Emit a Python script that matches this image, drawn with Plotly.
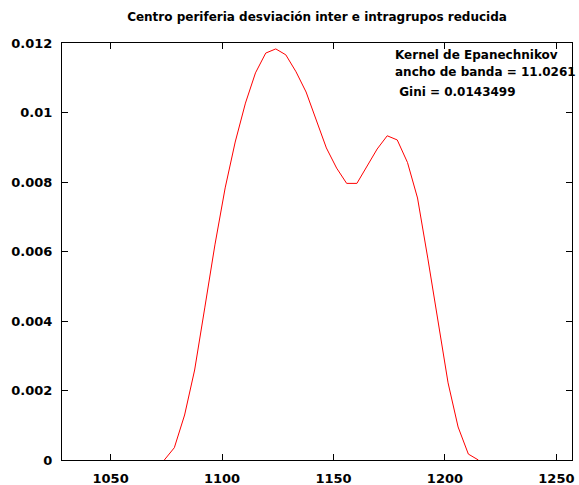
import plotly.graph_objects as go

# Evaluation grid (x) and estimated density (y)
x_vals = [1074.1, 1078.6, 1083.2, 1087.7, 1092.3, 1096.8, 1101.4, 1105.9,
          1110.5, 1115.0, 1119.6, 1124.1, 1128.6, 1133.2, 1137.7, 1142.3,
          1146.8, 1151.4, 1155.9, 1160.5, 1165.0, 1169.6, 1174.1, 1178.6,
          1183.2, 1187.7, 1192.3, 1196.8, 1201.4, 1205.9, 1210.5, 1215.0]
density = [0.0, 0.000354, 0.001295, 0.00259, 0.00440, 0.00619, 0.00783, 0.00915,
           0.01027, 0.01114, 0.01171, 0.01183, 0.01166, 0.01117, 0.01059, 0.00978,
           0.00898, 0.00840, 0.00796, 0.00796, 0.00844, 0.00895, 0.00933, 0.00921,
           0.00856, 0.00754, 0.00581, 0.00397, 0.00222, 0.00095, 0.00017, 0.0]

x_ticks = [1050, 1100, 1150, 1200, 1250]
y_ticks = [0, 0.002, 0.004, 0.006, 0.008, 0.01, 0.012]
y_ticktext = ["0", "0.002", "0.004", "0.006", "0.008", "0.01", "0.012"]

title_text = "<b>Centro periferia desviación inter e intragrupos reducida</b>"
notes = ["Kernel de Epanechnikov", "ancho de banda = 11.0261", " Gini = 0.0143499"]

W, H = 579, 485
L, R, T, B = 62, 7, 43, 25

fig = go.Figure()
fig.add_trace(go.Scatter(x=x_vals, y=density, mode="lines",
                         line=dict(color="#ff0000", width=1), showlegend=False,
                         hoverinfo="skip"))

font = dict(family="DejaVu Sans", size=12, color="black")

fig.update_layout(
    width=W, height=H,
    margin=dict(l=L, r=R, t=T, b=B, autoexpand=False),
    paper_bgcolor="white", plot_bgcolor="white",
    font=font,
    title=dict(text=title_text, x=(L + (W - R)) / 2 / W, xanchor="center",
               y=1 - 17 / H, yanchor="middle",
               font=dict(family="DejaVu Sans", size=12, color="black")),
    xaxis=dict(range=[1028.2, 1257.0], tickvals=x_ticks,
               ticktext=[f"<b>{v}</b>" for v in x_ticks],
               ticks="inside", ticklen=6, tickcolor="black", tickwidth=1,
               showline=True, linecolor="black", linewidth=1, mirror="allticks",
               showgrid=False, zeroline=False, ticklabelstandoff=6,
               automargin=False,
               tickfont=dict(family="DejaVu Sans", size=13, color="black")),
    yaxis=dict(range=[0, 0.012], tickvals=y_ticks,
               ticktext=[f"<b>{t}</b>" for t in y_ticktext],
               ticks="inside", ticklen=6, tickcolor="black", tickwidth=1,
               showline=True, linecolor="black", linewidth=1, mirror="allticks",
               showgrid=False, zeroline=False, ticklabelstandoff=6,
               automargin=False,
               tickfont=dict(family="DejaVu Sans", size=13, color="black")),
)

note_y = [55, 72, 92]
for txt, py in zip(notes, note_y):
    fig.add_annotation(text=f"<b>{txt}</b>", xref="paper", yref="paper",
                       x=(393 - L) / (W - L - R), y=1 - (py - T) / (H - T - B),
                       xanchor="left", yanchor="middle", showarrow=False,
                       font=dict(family="DejaVu Sans", size=12, color="black"))

fig.write_html("out.html")
